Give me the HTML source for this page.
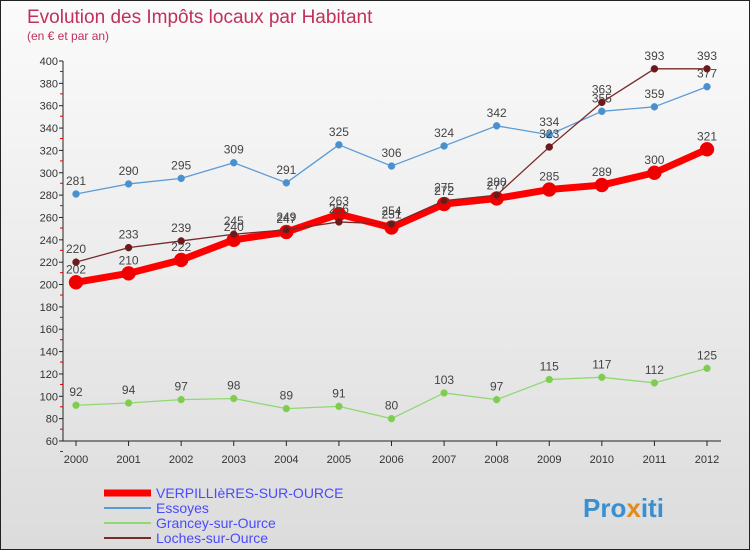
<!DOCTYPE html>
<html><head><meta charset="utf-8"><style>
body{margin:0}
#c{width:750px;height:550px;position:relative;background:linear-gradient(#fbfbfb,#dcdcdc);border:1px solid #222;box-sizing:border-box;overflow:hidden;font-family:"Liberation Sans",sans-serif}
</style></head><body>
<div id="c">
<svg width="750" height="550" id="s">
<text x="26" y="22" font-size="19" fill="#c0305a">Evolution des Impôts locaux par Habitant</text>
<text x="26" y="39" font-size="12" fill="#c0305a">(en € et par an)</text>
<g id="ax"></g><g id="ser"></g>
<text x="582" y="516" font-size="26" font-weight="bold" fill="#3a8fd0">Pro<tspan fill="#e08a20">x</tspan>iti</text>
</svg></div>
<script>
const years=[2000,2001,2002,2003,2004,2005,2006,2007,2008,2009,2010,2011,2012];
const yTicks=[60,80,100,120,140,160,180,200,220,240,260,280,300,320,340,360,380,400];
const verp=[202,210,222,240,247,263,251,272,277,285,289,300,321];
const essoyes=[281,290,295,309,291,325,306,324,342,334,355,359,377];
const grancey=[92,94,97,98,89,91,80,103,97,115,117,112,125];
const loches=[220,233,239,245,249,256,254,275,280,323,363,393,393];
const NS="http://www.w3.org/2000/svg";
function X(i){return 75+i*(706-75)/12}
function Y(v){return 440-(v-60)*(380/340)}
function mk(t,a,p){const e=document.createElementNS(NS,t);for(const k in a)e.setAttribute(k,a[k]);p.appendChild(e);return e}
const ax=document.getElementById('ax'),ser=document.getElementById('ser');
let l=mk('line',{x1:62,y1:60,x2:62,y2:440,stroke:'#222'},ax);


l=mk('line',{x1:62,y1:440,x2:720,y2:440,stroke:'#222'},ax);


yTicks.forEach(v=>{const t=mk('text',{x:57,y:Y(v)+4,'font-size':11,'text-anchor':'end',fill:'#333'},ax);t.textContent=v;


mk('line',{x1:58,y1:Y(v),x2:62,y2:Y(v),stroke:'#222'},ax);
mk('line',{x1:59,y1:Y(v)+10.5,x2:62,y2:Y(v)+10.5,stroke:'#d00'},ax);});
years.forEach((y,i)=>{const t=mk('text',{x:X(i),y:462,'font-size':11,'text-anchor':'middle',fill:'#333'},ax);t.textContent=y;


mk('line',{x1:X(i),y1:440,x2:X(i),y2:445,stroke:'#222'},ax);});
function series(d,col,w,r,dot,name){const g=mk('g',{},ser);


mk('polyline',{points:d.map((v,i)=>X(i)+','+Y(v)).join(' '),fill:'none',stroke:col,'stroke-width':w,'stroke-linejoin':'round'},g);
d.forEach((v,i)=>{const c=mk('circle',{cx:X(i),cy:Y(v),r:r,fill:dot,stroke:col,'stroke-width':0.5},g);


const t=mk('text',{x:X(i),y:Y(v)-9,'font-size':12,'text-anchor':'middle',fill:'#444'},g);t.textContent=v;

});}
series(essoyes,'#5b9bd5',1.3,3.5,'#4a90cf','essoyes-series');
series(grancey,'#90d870',1.3,3.5,'#80cc50','grancey-series');
series(verp,'#ff0000',7,7,'#ee0000','verpillieres-series');
series(loches,'#7a2a2a',1.3,3.5,'#6a1a1a','loches-series');
const leg=[['VERPILLIèRES-SUR-OURCE','#ff0000',7],['Essoyes','#5b9bd5',2],['Grancey-sur-Ource','#90d870',2],['Loches-sur-Ource','#7a2a2a',2]];
leg.forEach((e,i)=>{const y=492+i*15;mk('line',{x1:103,y1:y,x2:150,y2:y,stroke:e[1],'stroke-width':e[2]},ax);
const t=mk('text',{x:155,y:y+5,'font-size':14,fill:'#4a4aff'},ax);t.textContent=e[0];

});
</script>
</body></html>
